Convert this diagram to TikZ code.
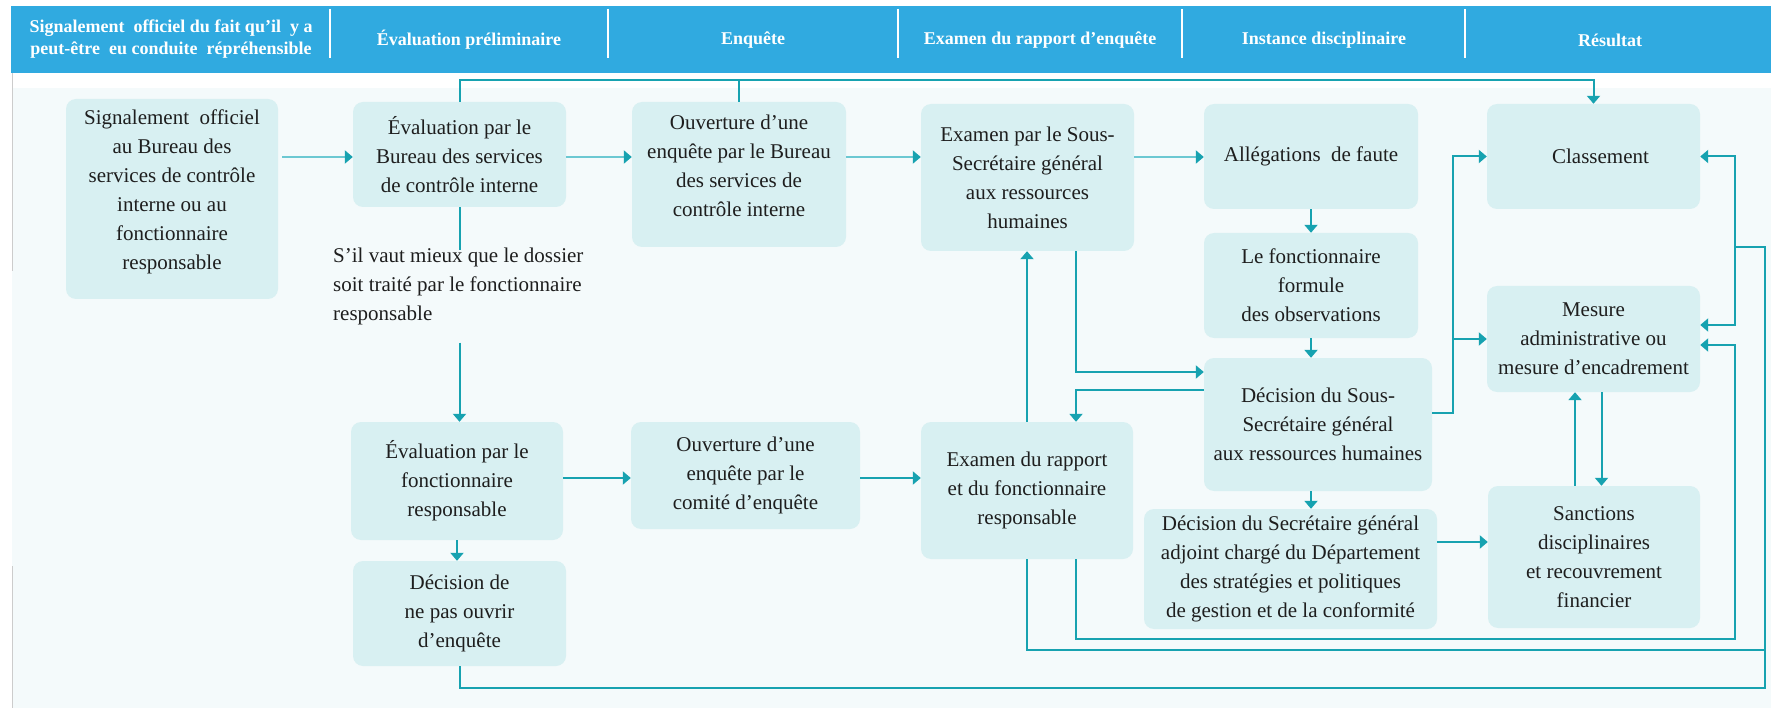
\documentclass[tikz,border=0pt]{standalone}
\usepackage{fontspec}
\setmainfont{Liberation Serif}
\usetikzlibrary{arrows.meta,calc}
\definecolor{hdr}{HTML}{30AAE0}
\definecolor{boxf}{HTML}{D8F0F2}
\definecolor{bgc}{HTML}{F4FAFB}
\definecolor{ln}{HTML}{17A2B0}
\definecolor{lnl}{HTML}{6CC8D2}
\definecolor{txt}{HTML}{1E1E1E}
\begin{document}
\begin{tikzpicture}[x=1pt,y=-1pt,
  box/.style={rounded corners=10pt, fill=boxf, inner sep=0pt, align=center, text=txt, font=\fontsize{21}{29}\selectfont},
  lbl/.style={inner sep=0pt, align=left, text=txt, font=\fontsize{21}{29}\selectfont},
  hd/.style={text=white, font=\bfseries\fontsize{18}{22}\selectfont, align=center, inner sep=0pt},
  divline/.style={white, line width=1.5pt},
  conn/.style={draw=ln, line width=2pt},
  arr/.style={conn, -{Triangle[length=8pt,width=13pt]}},
  arrl/.style={draw=lnl, line width=2pt, -{Triangle[length=8pt,width=13pt,color=ln]}}
]
\useasboundingbox (0,0) rectangle (1771,708);
\fill[white] (0,0) rectangle (1771,708);
\fill[bgc] (12,88) rectangle (1771,708);
\draw[black!20, line width=1pt] (12,73) -- (12,271);
\draw[black!20, line width=1pt] (12,566) -- (12,708);
\fill[hdr] (11,6) rectangle (1771,73);

% header
\node[hd] (h1) at (171,39) {Signalement\ \ officiel du fait qu’il\ \ y a\\peut-être\ \ eu conduite\ \ répréhensible};
\node[hd] (h2) at (469,40) {Évaluation préliminaire};
\node[hd] (h3) at (753,40) {Enquête};
\node[hd] (h4) at (1040,40) {Examen du rapport d’enquête};
\node[hd] (h5) at (1324,40) {Instance disciplinaire};
\node[hd] (h6) at (1610,40) {Résultat};
\foreach \xx in {330,608,898,1182,1465} \draw[divline] (\xx,9) -- (\xx,58);

% boxes
\node[box, minimum width=212pt, minimum height=200pt] (A) at (172,199) {Signalement\ \ officiel\\au Bureau des\\services de contrôle\\interne ou au\\fonctionnaire\\responsable\\[-11pt]\mbox{}};
\node[box, minimum width=213pt, minimum height=105pt] (B) at (459.5,154.5) {Évaluation par le\\Bureau des services\\de contrôle interne};
\node[box, minimum width=214pt, minimum height=145pt] (C) at (739,174.5) {Ouverture d’une\\enquête par le Bureau\\des services de\\contrôle interne\\[-12pt]\mbox{}};
\node[box, minimum width=213pt, minimum height=147pt] (D) at (1027.5,177.5) {Examen par le Sous-\\Secrétaire général\\aux ressources\\humaines};
\node[box, minimum width=214pt, minimum height=105pt] (AL) at (1311,156.5) {Allégations\ \ de faute};
\node[box, minimum width=214pt, minimum height=105pt] (OBS) at (1311,285.5) {Le fonctionnaire\\formule\\des observations};
\node[box, minimum width=228pt, minimum height=133pt] (I) at (1318,424.5) {Décision du Sous-\\Secrétaire général\\aux ressources humaines};
\node[box, minimum width=293pt, minimum height=120pt] (J) at (1290.5,569) {Décision du Secrétaire général\\adjoint chargé du Département\\des stratégies et politiques\\de gestion et de la conformité};
\node[box, minimum width=213pt, minimum height=105pt] (CL) at (1593.5,156.5) {\hspace*{14pt}Classement};
\node[box, minimum width=213pt, minimum height=106pt] (M) at (1593.5,339) {Mesure\\administrative ou\\mesure d’encadrement};
\node[box, minimum width=212pt, minimum height=142pt] (K) at (1594,557) {Sanctions\\disciplinaires\\et recouvrement\\financier};
\node[box, minimum width=212pt, minimum height=118pt] (E) at (457,481) {Évaluation par le\\fonctionnaire\\responsable};
\node[box, minimum width=229pt, minimum height=107pt] (F) at (745.5,475.5) {Ouverture d’une\\enquête par le\\comité d’enquête};
\node[box, minimum width=212pt, minimum height=137pt] (G) at (1027,490.5) {Examen du rapport\\et du fonctionnaire\\responsable};
\node[box, minimum width=213pt, minimum height=105pt] (H) at (459.5,613.5) {Décision de\\ne pas ouvrir\\d’enquête};
\node[lbl, anchor=west] (LBL) at (333,286) {S’il vaut mieux que le dossier\\soit traité par le fonctionnaire\\responsable};

% helper coordinates
\coordinate (r1) at (0,157);
\coordinate (top) at (0,80);
\coordinate (r2) at (0,478);
\coordinate (r3) at (0,542);
\coordinate (v1) at (1076,372);
\coordinate (v2) at (1076,390);
\coordinate (v3) at (1453,413);
\coordinate (xo) at (1765,688);
\coordinate (xb) at (1735,247);
\coordinate (y650) at (0,650);
\coordinate (y639) at (0,639);
\coordinate (ku) at ($(K.north)+(-19,0)$);
\coordinate (md) at ($(M.south)+(8,0)$);
\coordinate (mu) at ($(M.east)+(0,-14)$);
\coordinate (mdn) at ($(M.east)+(0,6)$);

% connectors
\draw[arrl, shorten <=4pt] (A.east |- r1) -- (B.west |- r1);
\draw[arrl] (B.east |- r1) -- (C.west |- r1);
\draw[arrl] (C.east |- r1) -- (D.west |- r1);
\draw[arrl] (D.east |- r1) -- (AL.west |- r1);
\draw[arr] (B.north) -- (B.north |- top) -- (CL.north |- top) -- (CL.north);
\draw[conn] (C.north) -- (C.north |- top);
\draw[conn] (B.south) -- ($(B.south |- LBL.north)+(0,3)$);
\draw[arr] ($(B.south |- LBL.south)+(0,18)$) -- (B.south |- E.north);
\draw[arr] (E.south) -- (E.south |- H.north);
\draw[arr] (E.east |- r2) -- (F.west |- r2);
\draw[arr] (F.east |- r2) -- (G.west |- r2);
\draw[arr] (G.north) -- (G.north |- D.south);
\draw[arr] (D.south -| v1) -- (v1) -- (v1 -| I.west);
\draw[arr] (v2 -| I.west) -- (v2) -- (v2 |- G.north);
\draw[arr] (AL.south) -- (AL.south |- OBS.north);
\draw[arr] (OBS.south) -- (OBS.south |- I.north);
\draw[arr] (I.south -| OBS.south) -- (OBS.south |- J.north);
\draw[arr] (J.east |- r3) -- (K.west |- r3);
\draw[arr] (v3 -| I.east) -- (v3) -- (v3 |- CL.west) -- (CL.west);
\draw[arr] (v3 |- M.west) -- (M.west);
\draw[arr] (ku) -- (ku |- M.south);
\draw[arr] (md) -- (md |- K.north);
\draw[arr] (H.south) -- (H.south |- xo) -- (xo) -- (xo |- xb) -- (xb) -- (xb |- CL.east) -- (CL.east);
\draw[arr] (xb) -- (xb |- mu) -- (mu);
\draw[conn] (G.south) -- (G.south |- y650) -- (y650 -| xo);
\draw[arr] (G.south -| v1) -- (v1 |- y639) -- (y639 -| xb) -- (xb |- mdn) -- (mdn);
\end{tikzpicture}
\end{document}
